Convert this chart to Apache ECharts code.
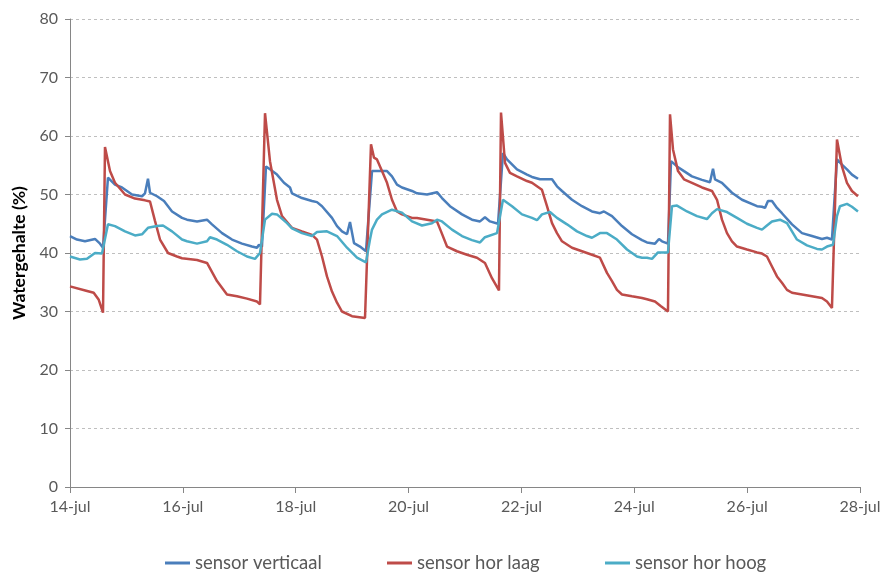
<!DOCTYPE html>
<html>
<head>
<meta charset="utf-8">
<script src="https://cdn.jsdelivr.net/npm/echarts@6/dist/echarts.min.js"></script>
<style>
html,body{margin:0;padding:0;background:#fff;}
#chart{width:889px;height:573px;}
</style>
</head>
<body>
<div id="chart"></div>
<script>
// x values are days since 14-jul
const tickLabels = ['14-jul','16-jul','18-jul','20-jul','22-jul','24-jul','26-jul','28-jul'];
const seriesNames = ['sensor verticaal','sensor hor laag','sensor hor hoog'];

const verticaalDays = [0,0.124,0.266,0.443,0.532,0.585,0.673,0.797,0.921,1.099,1.276,1.329,1.382,1.418,1.542,1.666,1.808,1.985,2.073,2.251,2.428,2.516,2.694,2.871,3.048,3.225,3.314,3.349,3.402,3.473,3.544,3.668,3.792,3.899,3.934,4.111,4.289,4.377,4.466,4.643,4.732,4.820,4.909,4.962,5.033,5.139,5.245,5.352,5.529,5.618,5.706,5.795,5.883,6.061,6.149,6.327,6.504,6.592,6.734,6.947,7.124,7.266,7.354,7.443,7.585,7.673,7.744,7.921,8.099,8.187,8.329,8.364,8.542,8.630,8.719,8.896,9.073,9.250,9.392,9.463,9.605,9.782,9.959,10.137,10.225,10.367,10.438,10.491,10.597,10.651,10.757,10.881,11.022,11.200,11.341,11.395,11.430,11.554,11.731,11.909,12.175,12.263,12.316,12.369,12.440,12.529,12.617,12.795,12.972,13.149,13.326,13.415,13.503,13.592,13.680,13.769,13.857,13.964];
const verticaalValues = [42.9,42.3,42.0,42.4,41.6,40.9,52.9,51.7,51.2,50.0,49.7,50.2,52.7,50.3,49.7,48.9,47.1,46.0,45.7,45.4,45.7,44.9,43.4,42.3,41.6,41.1,40.9,41.4,41.1,54.8,54.3,53.4,52.0,51.2,50.2,49.4,48.9,48.7,48.0,46.0,44.6,43.7,43.2,45.3,41.7,41.1,40.3,54.0,54.0,54.0,53.1,51.7,51.2,50.6,50.2,50.0,50.4,49.4,48.0,46.6,45.7,45.4,46.1,45.4,45.0,57.1,56.0,54.3,53.4,53.0,52.6,52.9,52.6,51.4,50.6,49.1,48.0,47.1,46.8,47.1,46.3,44.6,43.2,42.2,41.8,41.6,42.4,42.0,41.6,55.7,54.8,54.0,53.1,52.5,52.1,54.4,52.6,52.0,50.3,49.1,48.0,47.9,47.7,48.9,48.9,47.7,46.8,44.9,43.4,42.9,42.4,42.6,42.3,56.0,55.1,54.3,53.4,52.7];

const laagDays = [0,0.27,0.42,0.51,0.585,0.62,0.709,0.797,0.975,1.152,1.329,1.418,1.506,1.595,1.737,1.896,1.985,2.251,2.428,2.605,2.782,2.959,3.137,3.314,3.367,3.456,3.544,3.668,3.757,3.899,3.934,4.111,4.289,4.377,4.466,4.554,4.643,4.732,4.820,4.997,5.228,5.334,5.387,5.440,5.529,5.618,5.706,5.795,5.883,6.061,6.149,6.327,6.504,6.575,6.681,6.858,7.035,7.212,7.354,7.478,7.602,7.638,7.709,7.797,7.921,8.099,8.187,8.364,8.453,8.542,8.630,8.719,8.896,9.073,9.250,9.392,9.516,9.605,9.693,9.782,9.959,10.137,10.225,10.367,10.473,10.597,10.633,10.686,10.775,10.881,11.022,11.200,11.377,11.466,11.554,11.643,11.731,11.820,11.997,12.175,12.263,12.351,12.440,12.529,12.617,12.706,12.795,12.972,13.149,13.326,13.415,13.503,13.592,13.680,13.769,13.857,13.964];
const laagValues = [34.3,33.6,33.2,32.0,29.8,58.1,54.0,52.0,50.0,49.3,49.0,48.8,45.5,42.3,40.0,39.4,39.1,38.8,38.3,35.2,32.9,32.6,32.2,31.7,31.2,63.9,55.7,49.1,46.3,44.7,44.3,43.7,43.1,42.3,39.4,36.0,33.4,31.5,30.0,29.2,28.9,58.6,56.3,56.0,54.0,52.0,49.1,47.1,46.6,46.0,46.0,45.7,45.4,43.7,41.1,40.3,39.7,39.2,38.3,35.7,33.6,64.0,55.4,53.7,53.1,52.3,52.0,50.8,48.0,45.1,43.4,42.0,40.9,40.3,39.7,39.2,36.6,35.2,33.7,32.9,32.6,32.3,32.1,31.7,30.9,30.0,63.7,57.7,54.0,52.6,52.0,51.2,50.6,49.1,45.7,43.4,42.0,41.1,40.6,40.1,39.9,39.4,37.7,36.0,34.9,33.7,33.2,32.9,32.6,32.3,31.7,30.6,59.4,54.8,52.0,50.6,49.7];

const hoogDays = [0,0.177,0.301,0.443,0.567,0.673,0.797,0.975,1.152,1.276,1.382,1.542,1.648,1.808,1.985,2.073,2.251,2.428,2.481,2.605,2.782,2.959,3.137,3.278,3.367,3.456,3.580,3.668,3.846,3.934,4.111,4.289,4.377,4.554,4.732,4.909,5.086,5.245,5.316,5.352,5.440,5.529,5.706,5.883,6.061,6.238,6.415,6.504,6.592,6.769,6.947,7.124,7.266,7.354,7.567,7.673,7.833,8.010,8.187,8.276,8.364,8.506,8.630,8.808,8.985,9.162,9.250,9.392,9.516,9.693,9.871,10.048,10.137,10.225,10.314,10.420,10.597,10.668,10.757,10.934,11.111,11.288,11.377,11.466,11.643,11.820,11.997,12.175,12.263,12.351,12.440,12.582,12.706,12.795,12.883,13.060,13.238,13.326,13.415,13.521,13.592,13.645,13.769,13.857,13.964];
const hoogValues = [39.4,38.9,39.0,40.0,39.9,44.9,44.6,43.7,43.0,43.2,44.3,44.6,44.7,43.7,42.3,42.0,41.6,42.0,42.7,42.3,41.4,40.3,39.4,39.0,40.0,45.7,46.7,46.6,45.1,44.2,43.4,42.9,43.6,43.7,42.9,40.9,39.2,38.4,42.3,44.0,45.7,46.6,47.4,46.9,45.4,44.7,45.1,45.7,45.4,44.0,42.9,42.2,41.8,42.7,43.4,49.1,48.0,46.6,46.0,45.6,46.6,47.0,46.0,44.9,43.7,42.9,42.6,43.4,43.4,42.3,40.6,39.4,39.2,39.2,39.0,40.1,40.1,48.0,48.1,47.1,46.3,45.8,46.8,47.5,47.0,46.0,45.0,44.3,44.0,44.7,45.4,45.7,45.1,43.7,42.3,41.3,40.7,40.6,41.1,41.4,46.3,48.0,48.4,47.9,47.1];

const colors = ['#4A7EBB','#BE4B48','#4BACC6'];
const zip = (a,b) => a.map((d,i)=>[d,b[i]]);
const allDays = [verticaalDays, laagDays, hoogDays];
const allValues = [verticaalValues, laagValues, hoogValues];

const chart = echarts.init(document.getElementById('chart'), null, {renderer:'canvas'});
const fontFam = 'Lato, "Open Sans", sans-serif';
const legendLefts = [160, 382, 600];
chart.setOption({
  animation: false,
  color: colors,
  grid: {left: 70, right: 29, top: 19, bottom: 86, containLabel: false},
  xAxis: {
    type: 'value', min: 0, max: 14, interval: 2,
    axisLine: {lineStyle: {color: '#868686', width: 1}},
    axisTick: {show: true, length: 6, lineStyle: {color: '#868686'}},
    splitLine: {show: false},
    axisLabel: {color: '#595959', fontFamily: fontFam, fontSize: 16, margin: 12,
      formatter: v => tickLabels[Math.round(v/2)]}
  },
  yAxis: {
    type: 'value', min: 0, max: 80, interval: 10,
    name: 'Watergehalte (%)', nameLocation: 'middle', nameGap: 42, nameRotate: 90,
    nameTextStyle: {color: '#000', fontWeight: 'bold', fontSize: 17.5, fontFamily: fontFam},
    axisLine: {show: true, lineStyle: {color: '#868686', width: 1}},
    axisTick: {show: true, length: 5, lineStyle: {color: '#868686'}},
    splitLine: {show: true, lineStyle: {color: '#bfbfbf', type: [3,3], width: 1}},
    axisLabel: {color: '#595959', fontFamily: fontFam, fontSize: 16, margin: 12}
  },
  legend: seriesNames.map((n,i)=>({
    data: [n], left: legendLefts[i], top: 547, icon: 'rect', itemWidth: 25, itemHeight: 3,
    textStyle: {color: '#595959', fontFamily: fontFam, fontSize: 18.5, lineHeight: 22}
  })),
  series: seriesNames.map((n,i)=>({
    name: n, type: 'line', showSymbol: false, symbol: 'none',
    data: zip(allDays[i], allValues[i]),
    lineStyle: {width: 2.5, color: colors[i]},
    itemStyle: {color: colors[i]}
  }))
});
</script>
</body>
</html>
